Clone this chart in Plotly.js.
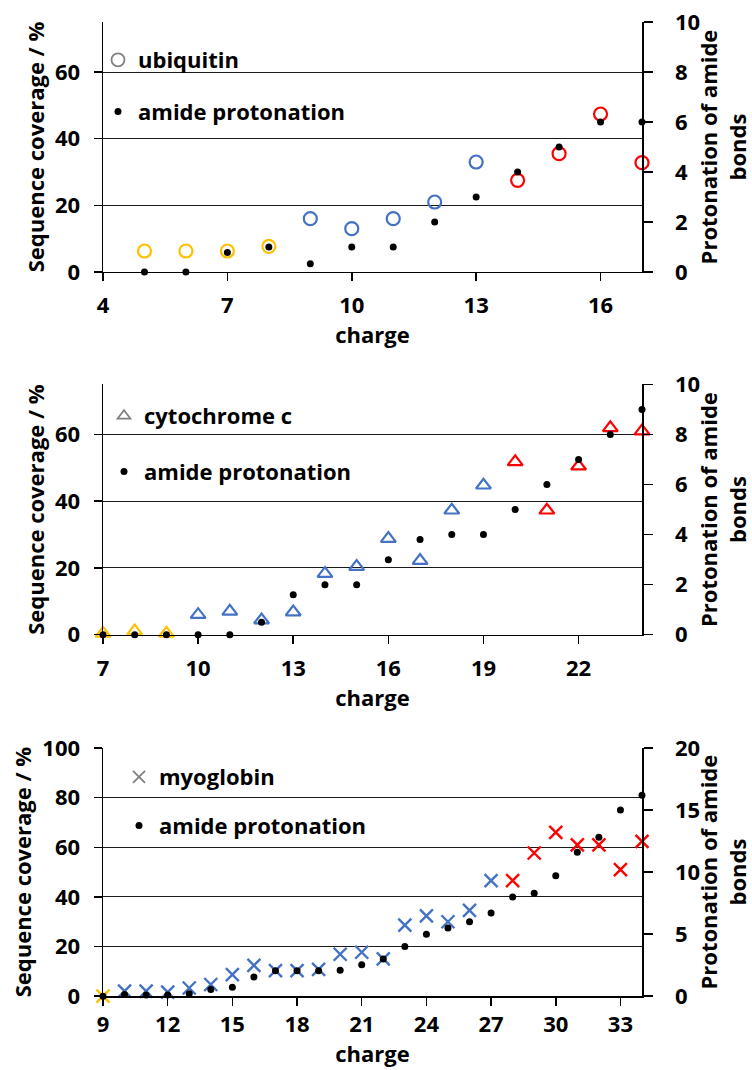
<!DOCTYPE html>
<html>
<head>
<meta charset="utf-8">
<script src="https://cdn.plot.ly/plotly-3.0.1.min.js"></script>
<style>
  html, body { margin: 0; padding: 0; background: #fff; }
  #chart { width: 752px; height: 1070px; }
</style>
</head>
<body>
<div id="chart"></div>
<script>
// ---- ubiquitin ----
const ubqCharge     = [5, 6, 7, 8, 9, 10, 11, 12, 13, 14, 15, 16, 17];
const ubqCoverage   = [6.3, 6.3, 6.3, 7.7, 16, 13, 16, 21, 33, 27.5, 35.5, 47.4, 32.8];
const ubqProtonated = [0, 0, 0.78, 1, 0.33, 1, 1, 2, 3, 4, 5, 6, 6];
const ubqRegime     = ['low','low','low','low','mid','mid','mid','mid','mid','high','high','high','high'];

// ---- cytochrome c ----
const cytCharge     = [7, 8, 9, 10, 11, 12, 13, 14, 15, 16, 17, 18, 19, 20, 21, 22, 23, 24];
const cytCoverage   = [0.4, 1.1, 0.4, 6, 7, 4.4, 6.8, 18.3, 20.4, 28.8, 22.2, 37.3, 44.8, 51.8, 37.3, 50.5, 62, 61];
const cytProtonated = [0, 0, 0, 0, 0, 0.5, 1.6, 2, 2, 3, 3.8, 4, 4, 5, 6, 7, 8, 9];
const cytRegime     = ['low','low','low','mid','mid','mid','mid','mid','mid','mid','mid','mid','mid','high','high','high','high','high'];

// ---- myoglobin ----
const myoCharge     = [9, 10, 11, 12, 13, 14, 15, 16, 17, 18, 19, 20, 21, 22, 23, 24, 25, 26, 27, 28, 29, 30, 31, 32, 33, 34];
const myoCoverage   = [0, 2, 2, 1.6, 3.3, 4.7, 8.7, 12.4, 10.3, 10.3, 10.8, 16.9, 17.7, 15, 28.6, 32.4, 30, 34.6, 46.6, 46.6, 57.7, 66, 61, 61, 51, 62.4];
const myoProtonated = [0, 0.13, 0.1, 0.1, 0.2, 0.53, 0.72, 1.54, 2.05, 2.05, 2.05, 2.08, 2.53, 3, 4, 5, 5.5, 6, 6.7, 8, 8.3, 9.7, 11.6, 12.8, 15, 16.2];
const myoRegime     = ['low','mid','mid','mid','mid','mid','mid','mid','mid','mid','mid','mid','mid','mid','mid','mid','mid','mid','mid','high','high','high','high','high','high','high'];

const regimeColor = { low: '#FFC000', mid: '#4472C4', high: '#FF0000' };
const FONT = '"Open Sans", Lato, sans-serif';
const FS = 22;
const TXT = '#000';
const boldFont = () => ({ family: FONT, size: FS, color: TXT, weight: 'bold' });

const panels = [
  { name: 'ubiquitin',    x: ubqCharge, cov: ubqCoverage, prot: ubqProtonated, reg: ubqRegime,
    symbol: 'circle-open', size: 13, lw: 2.2, keySize: 13, xr: [4, 17], tick0: 4, yr: [0, 75], y2r: [0, 10], y2d: 2,
    ydom: [0.7458, 0.9794], xLabGap: 5, legX: 98, legTop: 39, legGap: 20 },
  { name: 'cytochrome c', x: cytCharge, cov: cytCoverage, prot: cytProtonated, reg: cytRegime,
    symbol: 'triangle-up-open', size: 13, lw: 2.2, keySize: 11, xr: [7, 24], tick0: 7, yr: [0, 75], y2r: [0, 10], y2d: 2,
    ydom: [0.4068, 0.6407], xLabGap: 5, legX: 104, legTop: 395, legGap: 24 },
  { name: 'myoglobin',    x: myoCharge, cov: myoCoverage, prot: myoProtonated, reg: myoRegime,
    symbol: 'x-thin-open', size: 13, lw: 2.4, keySize: 12, xr: [9, 34], tick0: 9, yr: [0, 100], y2r: [0, 20], y2d: 5,
    ydom: [0.0690, 0.3009], xLabGap: 0, legX: 119, legTop: 756, legGap: 17 }
];

const xdom = [103 / 752, 642 / 752];
const traces = [];
const layout = {
  width: 752, height: 1070,
  margin: { l: 0, r: 0, t: 0, b: 0 },
  paper_bgcolor: '#fff', plot_bgcolor: '#fff',
  font: boldFont(),
  showlegend: true
};

panels.forEach((p, i) => {
  const n = i + 1;
  const xa = 'x' + (n === 1 ? '' : n);
  const ya = 'y' + (2 * n - 1 === 1 ? '' : 2 * n - 1);
  const yb = 'y' + (2 * n);
  const legendId = 'legend' + (n === 1 ? '' : n);

  // sequence coverage, coloured by charge regime
  traces.push({
    type: 'scatter', mode: 'markers', x: p.x, y: p.cov,
    xaxis: xa, yaxis: ya, cliponaxis: false, showlegend: false,
    marker: { symbol: p.symbol, size: p.size, color: p.reg.map(r => regimeColor[r]),
              line: { width: p.lw, color: p.reg.map(r => regimeColor[r]) } },
    hoverinfo: 'x+y'
  });
  // amide protonation on the secondary axis
  traces.push({
    type: 'scatter', mode: 'markers', x: p.x, y: p.prot,
    xaxis: xa, yaxis: yb, cliponaxis: false, showlegend: false,
    marker: { symbol: 'circle', size: 7, color: '#000' },
    hoverinfo: 'x+y'
  });
  // legend keys
  traces.push({
    type: 'scatter', mode: 'markers', x: [null], y: [null], name: p.name,
    xaxis: xa, yaxis: ya, legend: legendId, legendgroup: 'a' + n,
    marker: { symbol: p.symbol, size: p.keySize, color: '#808080', line: { width: 1.8, color: '#808080' } }
  });
  traces.push({
    type: 'scatter', mode: 'markers', x: [null], y: [null], name: 'amide protonation',
    xaxis: xa, yaxis: yb, legend: legendId, legendgroup: 'b' + n,
    marker: { symbol: 'circle', size: 7, color: '#000' }
  });

  const xKey = 'xaxis' + (n === 1 ? '' : n);
  const yKey = 'yaxis' + (2 * n - 1 === 1 ? '' : 2 * n - 1);
  const y2Key = 'yaxis' + (2 * n);

  layout[xKey] = {
    domain: xdom, anchor: ya, range: p.xr,
    tick0: p.tick0, dtick: 3, ticks: 'outside', ticklen: 8, tickwidth: 1.5, tickcolor: '#000',
    showline: true, linecolor: '#000', linewidth: 1.5,
    showgrid: false, zeroline: false,
    tickfont: boldFont(),
    ticklabelstandoff: p.xLabGap,
    title: { text: 'charge', font: boldFont(), standoff: 0 },
    automargin: false
  };
  layout[yKey] = {
    domain: p.ydom, anchor: xa, range: p.yr, dtick: 20,
    ticks: 'outside', ticklen: 8, tickwidth: 1.5, tickcolor: '#000',
    showline: true, linecolor: '#000', linewidth: 1.5,
    showgrid: true, gridcolor: '#1a1a1a', gridwidth: 1, zeroline: false,
    tickfont: boldFont(),
    ticklabelstandoff: 9,
    title: { text: 'Sequence coverage / %', font: boldFont(), standoff: 4 },
    automargin: false
  };
  layout[y2Key] = {
    overlaying: ya, side: 'right', anchor: xa, range: p.y2r, dtick: p.y2d,
    ticks: 'outside', ticklen: 9, tickwidth: 1.5, tickcolor: '#000',
    showline: true, linecolor: '#000', linewidth: 1.5,
    showgrid: false, zeroline: false,
    tickfont: boldFont(),
    ticklabelstandoff: 18,
    title: { text: 'Protonation of amide<br>bonds', font: boldFont(), standoff: 0 },
    automargin: false
  };
  layout[legendId] = {
    x: p.legX / 752, y: 1 - p.legTop / 1070, xanchor: 'left', yanchor: 'top',
    bgcolor: 'rgba(0,0,0,0)', borderwidth: 0,
    traceorder: 'grouped', tracegroupgap: p.legGap,
    font: boldFont()
  };
});

Plotly.newPlot('chart', traces, layout, { staticPlot: true, displayModeBar: false });
</script>
</body>
</html>
